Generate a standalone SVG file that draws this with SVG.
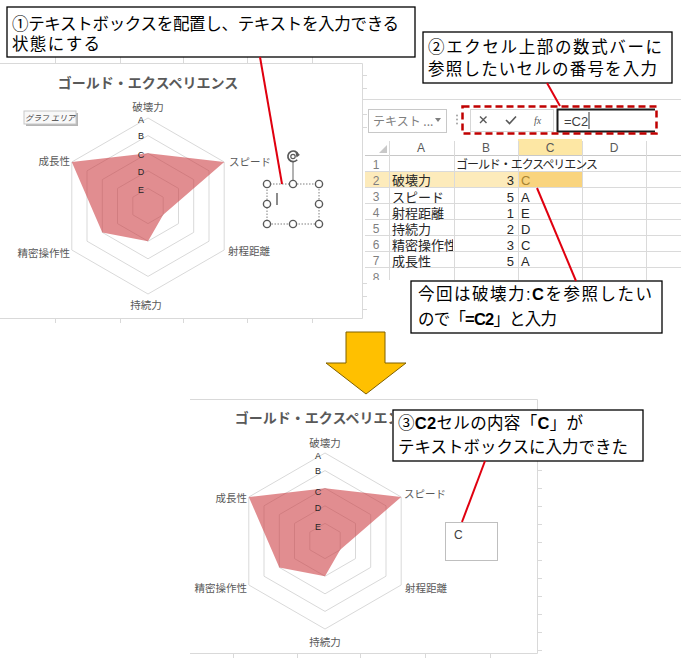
<svg xmlns="http://www.w3.org/2000/svg" width="681" height="664" viewBox="0 0 681 664">
<defs>
<style>
.jp{font-family:"Liberation Sans","Noto Sans CJK JP",sans-serif}
.cj{font-family:"Noto Sans CJK JP",sans-serif}
.callout{fill:#fff;stroke:#000;stroke-width:1.3}
.ct{font-size:16.5px;fill:#000}
.b{font-weight:bold}
.lead{stroke:#e0000f;stroke-width:2;fill:none}
.ring{fill:none;stroke:#d9d9d9;stroke-width:1}
.data{fill:#cc3a40;fill-opacity:0.58}
.ax{font-size:10.5px;fill:#595959}
.lv{font-size:9px;fill:#262626;text-anchor:middle}
.ttl{font-size:14px;font-weight:bold;fill:#595959;text-anchor:middle}
.frame{fill:none;stroke:#d9d9d9;stroke-width:1}
.tick{stroke:#d9d9d9;stroke-width:1}
.grid{stroke:#dadada;stroke-width:1}
.rn{font-size:12px;fill:#7f7f7f;text-anchor:middle}
.hd{font-size:12px;fill:#595959;text-anchor:middle}
.cell{font-size:13px;fill:#262626}
.hdl{fill:#fff;stroke:#595959;stroke-width:1.4}
</style>
<g id="rings">
<polygon class="ring" points="0,-88 76.2,-44 76.2,44 0,88 -76.2,44 -76.2,-44"/>
<polygon class="ring" points="0,-70.4 61,-35.2 61,35.2 0,70.4 -61,35.2 -61,-35.2"/>
<polygon class="ring" points="0,-52.8 45.7,-26.4 45.7,26.4 0,52.8 -45.7,26.4 -45.7,-26.4"/>
<polygon class="ring" points="0,-35.2 30.5,-17.6 30.5,17.6 0,35.2 -30.5,17.6 -30.5,-17.6"/>
<polygon class="ring" points="0,-17.6 15.2,-8.8 15.2,8.8 0,17.6 -15.2,8.8 -15.2,-8.8"/>
</g>
<clipPath id="sheetClip"><rect x="364" y="95" width="317" height="185"/></clipPath>
<clipPath id="cellA"><rect x="389" y="230" width="64" height="40"/></clipPath>
<clipPath id="titleClip"><rect x="-200" y="-140" width="267" height="40"/></clipPath>
</defs>

<rect width="681" height="664" fill="#fff"/>

<!-- top chart -->
<g id="chart-top">
<rect x="0" y="63" width="362" height="255" fill="#fff"/>
<path class="frame" d="M0,63.5 H362.5 V318.5 H0"/>
<g class="tick">
<line x1="55.5" y1="57" x2="55.5" y2="63"/><line x1="120.5" y1="57" x2="120.5" y2="63"/><line x1="183.5" y1="57" x2="183.5" y2="63"/><line x1="247.5" y1="57" x2="247.5" y2="63"/><line x1="312.5" y1="57" x2="312.5" y2="63"/>
<line x1="55.5" y1="318" x2="55.5" y2="323"/><line x1="120.5" y1="318" x2="120.5" y2="323"/><line x1="183.5" y1="318" x2="183.5" y2="323"/><line x1="247.5" y1="318" x2="247.5" y2="323"/><line x1="312.5" y1="318" x2="312.5" y2="323"/>
<line x1="363" y1="75.5" x2="367" y2="75.5"/><line x1="363" y1="88.5" x2="367" y2="88.5"/><line x1="363" y1="114.5" x2="367" y2="114.5"/><line x1="363" y1="127.5" x2="367" y2="127.5"/><line x1="363" y1="283.5" x2="367" y2="283.5"/><line x1="363" y1="296.5" x2="367" y2="296.5"/><line x1="363" y1="309.5" x2="367" y2="309.5"/>
</g>
<g transform="translate(148,206)">
<text class="cj ttl" x="0" y="-118">ゴールド・エクスペリエンス</text>
<use href="#rings"/>
<polygon class="data" points="0,-52.8 76.2,-44 15.2,8.8 0,35.2 -45.7,26.4 -76.2,-44"/>
<g class="cj ax">
<text x="0" y="-95" text-anchor="middle">破壊力</text>
<text x="81" y="-40">スピード</text>
<text x="80" y="49">射程距離</text>
<text x="-2" y="103" text-anchor="middle">持続力</text>
<text x="-78" y="51" text-anchor="end">精密操作性</text>
<text x="-78" y="-41" text-anchor="end">成長性</text>
</g>
<g class="jp lv">
<text x="-7" y="-83">A</text><text x="-7" y="-67">B</text><text x="-7" y="-48">C</text><text x="-7" y="-31">D</text><text x="-7" y="-13.5">E</text>
</g>
</g>
<g id="tooltip">
<rect x="26" y="113" width="52" height="13" fill="#b5b5b5"/>
<rect x="24" y="111" width="52" height="13" fill="#f8f8f8" stroke="#c8c8c8"/>
<text class="cj" x="50" y="120.8" font-size="8" fill="#404040" text-anchor="middle" font-style="italic">グラフ エリア</text>
</g>
<g id="textbox-selected">
<rect x="267" y="184" width="52" height="40" fill="none" stroke="#7f7f7f" stroke-dasharray="1.5 1.5"/>
<line x1="293" y1="162" x2="293" y2="184" stroke="#7f7f7f" stroke-width="1.2"/>
<path d="M297.2,159.8 A5.3,5.3 0 1 1 298.2,154.5" fill="none" stroke="#595959" stroke-width="1.7"/>
<path d="M295.5,152.5 L300,154.8 L296.5,157.5 Z" fill="#595959"/>
<circle cx="293" cy="156.5" r="2.2" fill="none" stroke="#595959" stroke-width="1.2"/>
<circle class="hdl" cx="267" cy="184" r="3.6"/><circle class="hdl" cx="293" cy="184" r="3.6"/><circle class="hdl" cx="319" cy="184" r="3.6"/>
<circle class="hdl" cx="267" cy="204" r="3.6"/><circle class="hdl" cx="319" cy="204" r="3.6"/>
<circle class="hdl" cx="267" cy="224" r="3.6"/><circle class="hdl" cx="293" cy="224" r="3.6"/><circle class="hdl" cx="319" cy="224" r="3.6"/>
<line x1="277" y1="193" x2="277" y2="205" stroke="#404040" stroke-width="1.2"/>
</g>
</g>

<!-- spreadsheet -->
<g id="sheet">
<line class="grid" x1="363" y1="99.5" x2="681" y2="99.5"/>
<g id="namebox">
<rect x="368.5" y="109.5" width="78" height="23" fill="#fff" stroke="#c8c8c8"/>
<text class="cj" x="373" y="125.5" font-size="12" fill="#7f7f7f">テキスト ...</text>
<polygon points="435,118 441,118 438,122" fill="#7f7f7f"/>
</g>
<circle cx="457" cy="115.5" r="0.9" fill="#9a9a9a"/><circle cx="457" cy="119.5" r="0.9" fill="#9a9a9a"/><circle cx="457" cy="123.5" r="0.9" fill="#9a9a9a"/>
<g id="formula-bar">
<rect x="470.5" y="109.5" width="83" height="22" fill="#fff" stroke="#d6d6d6"/>
<path d="M480,116.5 L486.5,123 M486.5,116.5 L480,123" stroke="#595959" stroke-width="1.4"/>
<path d="M506,120 L509.5,123.5 L516,116.5" fill="none" stroke="#595959" stroke-width="1.6"/>
<text x="534" y="124" font-family="Liberation Serif,serif" font-style="italic" font-size="10" fill="#595959">fx</text>
<rect x="557" y="109" width="98" height="23" fill="#fff"/>
<path d="M655,109.5 H557.5 V131.5 H655" fill="none" stroke="#1a1a1a" stroke-width="2"/>
<text class="jp" x="564" y="125.5" font-size="13" fill="#404040">=C2</text>
<line x1="589" y1="112" x2="589" y2="129" stroke="#333" stroke-width="1"/>
<rect x="462.5" y="106.5" width="194" height="27" fill="none" stroke="#c00000" stroke-width="2.5" stroke-dasharray="7 4"/>
</g>
<g clip-path="url(#sheetClip)">
<rect x="518" y="139" width="64" height="16" fill="#fde7a4"/>
<rect x="365" y="171" width="153" height="16" fill="#fdebbb"/>
<rect x="518" y="171" width="64" height="16" fill="#f9d47e"/>
<polygon points="379,153 387,153 387,145" fill="#c8c8c8"/>
<g class="grid">
<line x1="365" y1="155.5" x2="681" y2="155.5" stroke="#c8c8c8"/>
<line x1="365" y1="171.5" x2="681" y2="171.5"/><line x1="365" y1="187.5" x2="681" y2="187.5"/><line x1="365" y1="203.5" x2="681" y2="203.5"/><line x1="365" y1="219.5" x2="681" y2="219.5"/><line x1="365" y1="235.5" x2="681" y2="235.5"/><line x1="365" y1="251.5" x2="681" y2="251.5"/><line x1="365" y1="267.5" x2="681" y2="267.5"/>
<line x1="389.5" y1="141" x2="389.5" y2="280"/><line x1="454.5" y1="141" x2="454.5" y2="280"/><line x1="518.5" y1="141" x2="518.5" y2="280"/><line x1="582.5" y1="141" x2="582.5" y2="280"/><line x1="646.5" y1="141" x2="646.5" y2="280"/>
</g>
<g class="jp hd"><text x="421" y="151.5">A</text><text x="486" y="151.5">B</text><text x="550" y="151.5">C</text><text x="614" y="151.5">D</text></g>
<g class="jp rn">
<text x="376" y="168.5">1</text><text x="376" y="184.5">2</text><text x="376" y="201">3</text><text x="376" y="217">4</text><text x="376" y="233">5</text><text x="376" y="249">6</text><text x="376" y="265">7</text><text x="376" y="281.5">8</text>
</g>
<g class="jp cell">
<text x="456" y="169" font-size="12" textLength="142">ゴールド・エクスペリエンス</text>
<text x="392" y="185">破壊力</text><text x="514" y="185" text-anchor="end">3</text><text x="521" y="185" fill="#a88432">C</text>
<text x="392" y="201.5">スピード</text><text x="514" y="201.5" text-anchor="end">5</text><text x="521" y="201.5">A</text>
<text x="392" y="217.5">射程距離</text><text x="514" y="217.5" text-anchor="end">1</text><text x="521" y="217.5">E</text>
<text x="392" y="233.5">持続力</text><text x="514" y="233.5" text-anchor="end">2</text><text x="521" y="233.5">D</text>
<text x="392" y="249.5" clip-path="url(#cellA)">精密操作性</text><text x="514" y="249.5" text-anchor="end">3</text><text x="521" y="249.5">C</text>
<text x="392" y="265.5">成長性</text><text x="514" y="265.5" text-anchor="end">5</text><text x="521" y="265.5">A</text>
</g>
</g>
</g>

<!-- down arrow -->
<g id="arrow">
<polygon points="346,332 385,332 385,363 406,363 366,394 326,363 346,363" fill="#ffc000" stroke="#7f6000" stroke-width="1"/>
</g>

<!-- bottom chart -->
<g id="chart-bottom">
<rect x="190" y="399" width="348" height="254" fill="#fff"/>
<path class="frame" d="M190,399.5 H537.5 V653.5 H190"/>
<g class="tick">
<line x1="233.5" y1="653" x2="233.5" y2="658"/><line x1="297.5" y1="653" x2="297.5" y2="658"/><line x1="360.5" y1="653" x2="360.5" y2="658"/><line x1="425.5" y1="653" x2="425.5" y2="658"/><line x1="490.5" y1="653" x2="490.5" y2="658"/>
<line x1="538" y1="416.5" x2="542" y2="416.5"/><line x1="538" y1="434.5" x2="542" y2="434.5"/><line x1="538" y1="452.5" x2="542" y2="452.5"/><line x1="538" y1="470.5" x2="542" y2="470.5"/><line x1="538" y1="488.5" x2="542" y2="488.5"/><line x1="538" y1="506.5" x2="542" y2="506.5"/><line x1="538" y1="524.5" x2="542" y2="524.5"/><line x1="538" y1="542.5" x2="542" y2="542.5"/><line x1="538" y1="560.5" x2="542" y2="560.5"/><line x1="538" y1="578.5" x2="542" y2="578.5"/><line x1="538" y1="596.5" x2="542" y2="596.5"/><line x1="538" y1="614.5" x2="542" y2="614.5"/><line x1="538" y1="632.5" x2="542" y2="632.5"/><line x1="538" y1="650.5" x2="542" y2="650.5"/>
</g>
<g transform="translate(325,541)">
<text class="cj ttl" x="0" y="-118" clip-path="url(#titleClip)">ゴールド・エクスペリエンス</text>
<use href="#rings"/>
<polygon class="data" points="0,-52.8 76.2,-44 15.2,8.8 0,35.2 -45.7,26.4 -76.2,-44"/>
<g class="cj ax">
<text x="0" y="-94" text-anchor="middle">破壊力</text>
<text x="79" y="-43">スピード</text>
<text x="80" y="51">射程距離</text>
<text x="0" y="105" text-anchor="middle">持続力</text>
<text x="-78" y="51" text-anchor="end">精密操作性</text>
<text x="-78" y="-39" text-anchor="end">成長性</text>
</g>
<g class="jp lv">
<text x="-7" y="-82">A</text><text x="-7" y="-67">B</text><text x="-7" y="-46">C</text><text x="-7" y="-30">D</text><text x="-7" y="-11">E</text>
</g>
</g>
<g id="textbox-result">
<rect x="445.5" y="522.5" width="52" height="38" fill="#fff" stroke="#bfbfbf"/>
<text class="jp" x="454" y="539" font-size="12" fill="#404040">C</text>
</g>
</g>

<!-- callouts -->
<g id="callout-1">
<rect class="callout" x="7" y="7" width="408" height="50"/>
<text class="jp ct" x="12" y="30" textLength="387">①テキストボックスを配置し、テキストを入力できる</text>
<text class="jp ct" x="12" y="50" textLength="88">状態にする</text>
</g>
<g id="callout-2">
<rect class="callout" x="423" y="32" width="249" height="51"/>
<text class="jp ct" x="428" y="53" textLength="234">②エクセル上部の数式バーに</text>
<text class="jp ct" x="428" y="75" textLength="229">参照したいセルの番号を入力</text>
</g>
<g id="callout-3">
<rect class="callout" x="411" y="281" width="251" height="52"/>
<text class="jp ct" x="418" y="300" textLength="234">今回は破壊力:<tspan class="b">C</tspan>を参照したい</text>
<text class="jp ct" x="418" y="325" textLength="139">ので「<tspan class="b">=C2</tspan>」と入力</text>
</g>
<g id="callout-4">
<rect class="callout" x="393" y="410" width="250" height="51"/>
<text class="jp ct" x="398" y="429" textLength="185">③<tspan class="b">C2</tspan>セルの内容「<tspan class="b">C</tspan>」が</text>
<text class="jp ct" x="398" y="453" textLength="230">テキストボックスに入力できた</text>
</g>

<!-- connectors -->
<g id="connectors">
<line class="lead" x1="260" y1="57" x2="282" y2="184"/>
<line class="lead" x1="547" y1="83" x2="560" y2="106"/>
<line class="lead" x1="537" y1="188" x2="576" y2="281"/>
<line class="lead" x1="485" y1="461" x2="462" y2="522"/>
</g>
</svg>
